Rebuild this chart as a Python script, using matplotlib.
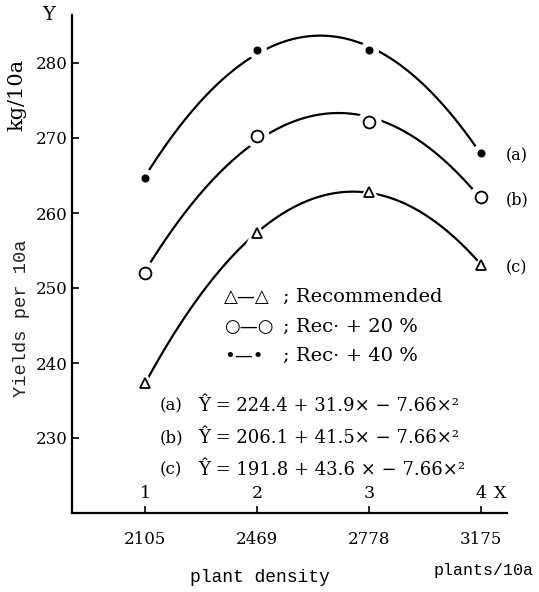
import numpy as np
import matplotlib.pyplot as plt

# data
x_code = [1, 2, 3, 4]
density = ['2105', '2469', '2778', '3175']
yield_a = [264.7, 281.7, 281.7, 268.0]   # Rec. + 40 %
yield_b = [252.0, 270.3, 272.1, 262.1]   # Rec. + 20 %
yield_c = [237.3, 257.3, 262.8, 253.1]   # Recommended
y_ticks = [230, 240, 250, 260, 270, 280]
equations = ['224.4 + 31.9× − 7.66×²',
             '206.1 + 41.5× − 7.66×²',
             '191.8 + 43.6 × − 7.66×²']

serif = ['DejaVu Serif']
mono = ['Liberation Mono', 'DejaVu Sans Mono']
sym = ['DejaVu Sans']

fig = plt.figure(figsize=(5.39, 5.92), dpi=100)
ax = fig.add_axes([72/539, 1 - 513/592, 435/539, 498/592])

xs = np.linspace(1, 4, 200)
series = [(yield_a, 'o', 'k', 4.5, '(a)'),
          (yield_b, 'o', 'w', 8.5, '(b)'),
          (yield_c, '^', 'w', 7.5, '(c)')]
for vals, mk, fc, ms, lab in series:
    coef = np.polyfit(x_code, vals, 2)
    ax.plot(xs, np.polyval(coef, xs), color='k', lw=1.6, zorder=2)
    # white halo to break the curve around each marker
    ax.plot(x_code, vals, ls='none', marker=mk, ms=ms + 8, mfc='w', mec='w', zorder=3)
    ax.plot(x_code, vals, ls='none', marker=mk, ms=ms, mfc=fc, mec='k', mew=1.3, zorder=4)
    ax.annotate(lab, (4, vals[-1]), xytext=(18, -2), textcoords='offset points',
                va='center', ha='left', fontsize=11.5, family=serif)

ax.set_xlim(0.348, 4.232)
ax.set_ylim(220, 286.4)
ax.spines['top'].set_visible(False)
ax.spines['right'].set_visible(False)
ax.spines['left'].set_linewidth(1.6)
ax.spines['bottom'].set_linewidth(1.6)

ax.set_xticks(x_code)
ax.set_xticklabels(density, family=serif, fontsize=12)
ax.set_yticks(y_ticks)
ax.set_yticklabels([str(v) for v in y_ticks], family=serif, fontsize=12)
ax.tick_params(direction='in', length=5, width=1.2, pad=13)
ax.tick_params(axis='y', pad=3)

for xc in x_code:
    ax.text(xc, 221.5, str(xc), ha='center', va='bottom', fontsize=12.5, family=serif)
ax.text(4.17, 221.5, 'X', ha='center', va='bottom', fontsize=12.5, family=serif)
ax.text(-0.04, 1.0, 'Y', transform=ax.transAxes, ha='right', va='center',
        fontsize=14, family=serif)

fig.text(22/539, 1 - 318/592, 'Yields per 10a', rotation=90, ha='center', va='center',
         fontsize=13.5, family=mono, color='#222222')
fig.text(17/539, 1 - 95/592, 'kg/10a', rotation=90, ha='center', va='center',
         fontsize=15, family=serif)
fig.text(260/539, 1 - 578/592, 'plant density', ha='center', va='center',
         fontsize=13, family=mono)
fig.text(484/539, 1 - 570/592, 'plants/10a', ha='center', va='center',
         fontsize=12, family=mono)

# legend
leg = [('△—△', 'Recommended'), ('○—○', 'Rec· + 20 %'), ('•—•', 'Rec· + 40 %')]
for i, (s, t) in enumerate(leg):
    yf = (513 - (297 + 29.5 * i)) / 498
    ax.text((224 - 72) / 435, yf, s, transform=ax.transAxes, ha='left', va='center',
            fontsize=13, family=sym)
    ax.text((283 - 72) / 435, yf, '; ' + t, transform=ax.transAxes, ha='left',
            va='center', fontsize=14, family=serif)

# fitted equations
for i, (lab, eq) in enumerate(zip(['(a)', '(b)', '(c)'], equations)):
    yf = (513 - (406 + 32 * i)) / 498
    ax.text((160 - 72) / 435, yf, lab, transform=ax.transAxes, ha='left', va='center',
            fontsize=12, family=serif)
    ax.text((198 - 72) / 435, yf, 'Ŷ = ' + eq, transform=ax.transAxes, ha='left',
            va='center', fontsize=13, family=serif)

fig.savefig('out.png', dpi=100)
